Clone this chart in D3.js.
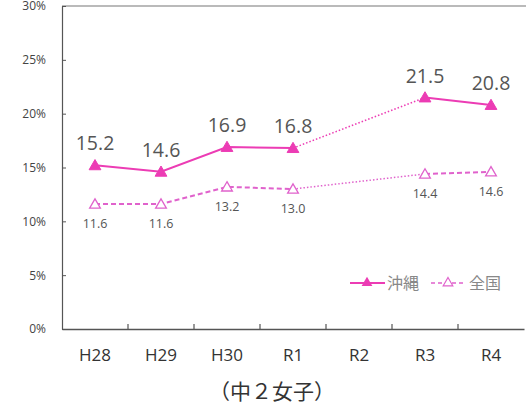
<!DOCTYPE html>
<html><head><meta charset="utf-8">
<script src="https://cdn.jsdelivr.net/npm/d3@7"></script>
<style>body{margin:0;background:#fff;}svg{display:block;}</style>
</head><body>
<svg id="c" width="526" height="405"></svg>
<script>
const categories = ["H28","H29","H30","R1","R2","R3","R4"];
const okinawa = [15.2, 14.6, 16.9, 16.8, null, 21.5, 20.8];
const zenkoku = [11.6, 11.6, 13.2, 13.0, null, 14.4, 14.6];
const yTicks = [0,5,10,15,20,25,30];
const seriesNames = ["沖縄","全国"];
const caption = "（中２女子）";

const svg = d3.select("#c");
const font = "'Open Sans','Noto Sans CJK JP',sans-serif";
const cjk = "'Noto Sans CJK JP',sans-serif";
const x = d3.scaleBand().domain(categories).range([62, 524]);
const y = d3.scaleLinear().domain([0,30]).range([329, 6]);
const cx = c => x(c) + x.bandwidth()/2;
const c1 = "#ec3cb4", c2 = "#e062cc";

svg.append("line").attr("x1",62).attr("x2",526).attr("y1",y(30)).attr("y2",y(30)).attr("stroke","#777").attr("stroke-width",1.2);

const ya = svg.append("g").attr("transform","translate(62,0)")
  .call(d3.axisLeft(y).tickValues(yTicks).tickSize(-4).tickSizeOuter(0).tickFormat(d=>d+"%").tickPadding(16));
ya.select(".domain").attr("stroke","#555").attr("stroke-width",1.2);
ya.selectAll(".tick line").attr("stroke","#555");
ya.selectAll("text").attr("font-family",font).attr("font-size",12).attr("fill","#444");

const xa = svg.append("g").attr("transform","translate(0,329)")
  .call(d3.axisBottom(x).tickSize(0).tickSizeOuter(0).tickPadding(20));
xa.select(".domain").attr("stroke","#555").attr("stroke-width",1.5);
xa.selectAll("text").attr("font-family",font).attr("font-size",17).attr("fill","#333");
svg.append("g").selectAll("line").data(categories.slice(1)).join("line")
  .attr("x1",d=>x(d)).attr("x2",d=>x(d)).attr("y1",329).attr("y2",324).attr("stroke","#555").attr("stroke-width",1.2);

function drawSeries(vals, color, dash, filled, labelDy, labelSize) {
  const pts = categories.map((c,i)=>({c, v: vals[i]}));
  const line = d3.line().defined(d=>d.v!=null).x(d=>cx(d.c)).y(d=>y(d.v));
  svg.append("path").datum(pts).attr("d", line).attr("fill","none").attr("stroke",color)
    .attr("stroke-width",2).attr("stroke-dasharray",dash);
  const valid = pts.filter(d=>d.v!=null);
  for (let i=0;i<pts.length;i++){
    if (pts[i].v==null){
      const a = pts[i-1], b = pts[i+1];
      svg.append("line").attr("x1",cx(a.c)).attr("y1",y(a.v)).attr("x2",cx(b.c)).attr("y2",y(b.v))
        .attr("stroke",color).attr("stroke-width",1.5).attr("stroke-dasharray","1.5,2");
    }
  }
  const tri = d3.symbol().type(d3.symbolTriangle).size(filled?60:50);
  svg.append("g").selectAll("path").data(valid).join("path")
    .attr("d", tri).attr("transform", d=>`translate(${cx(d.c)},${y(d.v)+1})`)
    .attr("fill", filled?color:"#fff").attr("stroke",color).attr("stroke-width",filled?1:1.3);
  svg.append("g").selectAll("text").data(valid).join("text")
    .attr("x", d=>cx(d.c)).attr("y", d=>y(d.v)+labelDy).attr("text-anchor","middle")
    .attr("font-family",font).attr("font-size",labelSize).attr("fill","#555").text(d=>d.v.toFixed(1));
}
drawSeries(zenkoku, c2, "5,3", false, 24, 12.5);
drawSeries(okinawa, c1, null, true, -15, 19.5);

const lg = svg.append("g");
lg.append("line").attr("x1",350).attr("x2",385).attr("y1",283).attr("y2",283).attr("stroke",c1).attr("stroke-width",2);
lg.append("path").attr("d",d3.symbol().type(d3.symbolTriangle).size(50)).attr("transform","translate(367,283)").attr("fill",c1);
lg.append("text").attr("x",387).attr("y",289).attr("font-family",cjk).attr("font-size",16).attr("fill","#888").text(seriesNames[0]);
lg.append("line").attr("x1",431).attr("x2",466).attr("y1",283).attr("y2",283).attr("stroke",c2).attr("stroke-width",1.5).attr("stroke-dasharray","4,3");
lg.append("path").attr("d",d3.symbol().type(d3.symbolTriangle).size(40)).attr("transform","translate(448,283)").attr("fill","#fff").attr("stroke",c2).attr("stroke-width",1.2);
lg.append("text").attr("x",469).attr("y",289).attr("font-family",cjk).attr("font-size",16).attr("fill","#888").text(seriesNames[1]);

svg.append("text").attr("x",272).attr("y",399).attr("text-anchor","middle").attr("font-family",cjk)
  .attr("font-size",21).attr("fill","#333").text(caption);
</script>
</body></html>
